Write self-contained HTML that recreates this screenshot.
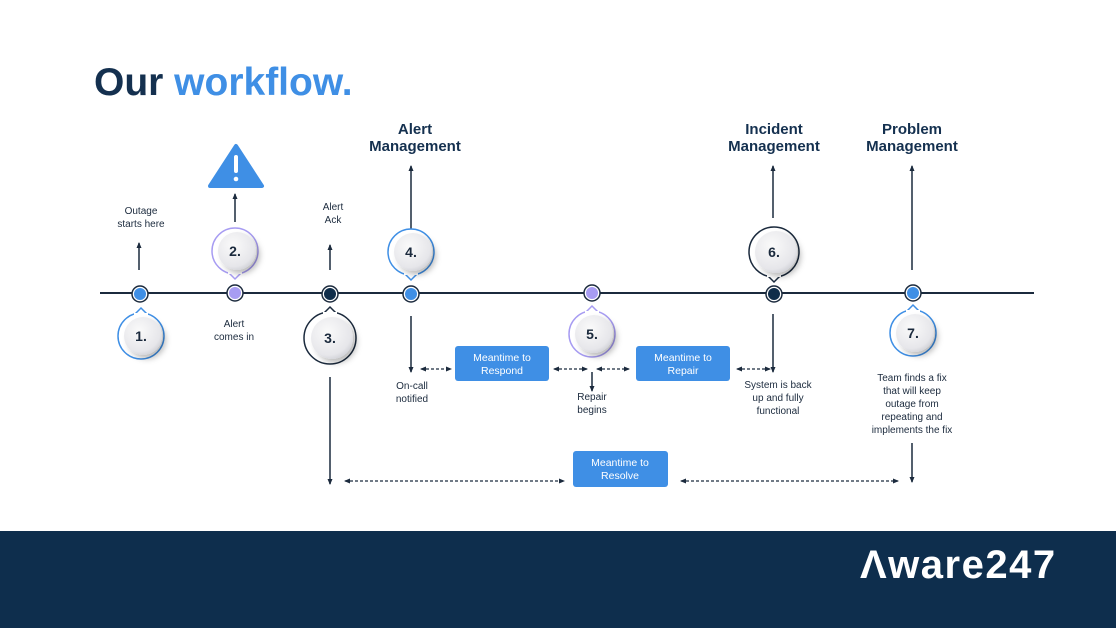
<!DOCTYPE html>
<html><head><meta charset="utf-8"><style>
body{margin:0;width:1116px;height:628px;overflow:hidden;background:#fff;font-family:"Liberation Sans",sans-serif}
</style></head><body>
<svg width="1116" height="628" viewBox="0 0 1116 628" xmlns="http://www.w3.org/2000/svg" font-family="Liberation Sans, sans-serif">
<defs>
<marker id="a" markerUnits="userSpaceOnUse" markerWidth="6" markerHeight="6" refX="5" refY="3" orient="auto"><path d="M0,0.5 L6,3 L0,5.5z" fill="#1b2a3d"/></marker>
<marker id="b" markerUnits="userSpaceOnUse" markerWidth="6" markerHeight="6" refX="1" refY="3" orient="auto"><path d="M6,0.5 L0,3 L6,5.5z" fill="#1b2a3d"/></marker>
<radialGradient id="g" cx="40%" cy="35%" r="70%"><stop offset="0" stop-color="#fafafa"/><stop offset="0.8" stop-color="#e6e6ea"/><stop offset="1" stop-color="#cfd0d6"/></radialGradient>
<filter id="s" x="-50%" y="-50%" width="200%" height="200%"><feDropShadow dx="4" dy="4" stdDeviation="3" flood-color="#000" flood-opacity="0.25"/></filter>
</defs>
<text x="94" y="95" font-size="39" font-weight="bold" fill="#14304f">Our <tspan fill="#3f8fe5">workflow.</tspan></text>

<g stroke="#1b2a3d" stroke-width="1.5" fill="none">
<line x1="100" y1="293" x2="1034" y2="293" stroke-width="2"/>
<line x1="139" y1="270" x2="139" y2="243" marker-end="url(#a)"/>
<line x1="235" y1="222" x2="235" y2="194" marker-end="url(#a)"/>
<line x1="330" y1="270" x2="330" y2="245" marker-end="url(#a)"/>
<line x1="411" y1="250" x2="411" y2="166" marker-end="url(#a)"/>
<line x1="773" y1="218" x2="773" y2="166" marker-end="url(#a)"/>
<line x1="912" y1="270" x2="912" y2="166" marker-end="url(#a)"/>
<line x1="411" y1="316" x2="411" y2="372" marker-end="url(#a)"/>
<line x1="592" y1="372" x2="592" y2="391" marker-end="url(#a)"/>
<line x1="773" y1="314" x2="773" y2="372" marker-end="url(#a)"/>
<line x1="330" y1="377" x2="330" y2="484" marker-end="url(#a)"/>
<line x1="912" y1="443" x2="912" y2="482" marker-end="url(#a)"/>
<g stroke-dasharray="3,2" stroke-width="1.2">
<line x1="421" y1="369" x2="451" y2="369" marker-start="url(#b)" marker-end="url(#a)"/>
<line x1="554" y1="369" x2="587" y2="369" marker-start="url(#b)" marker-end="url(#a)"/>
<line x1="597" y1="369" x2="629" y2="369" marker-start="url(#b)" marker-end="url(#a)"/>
<line x1="737" y1="369" x2="770" y2="369" marker-start="url(#b)" marker-end="url(#a)"/>
<line x1="345" y1="481" x2="564" y2="481" marker-start="url(#b)" marker-end="url(#a)"/>
<line x1="681" y1="481" x2="898" y2="481" marker-start="url(#b)" marker-end="url(#a)"/>
</g>
</g>

<path d="M236,146 L262,186 L210,186 Z" fill="#3f8fe5" stroke="#3f8fe5" stroke-width="4" stroke-linejoin="round"/>
<rect x="234" y="155" width="4" height="18" rx="2" fill="#fff"/><circle cx="236" cy="179" r="2.3" fill="#fff"/>

<g font-size="14" font-weight="bold" fill="#1b2a3d" text-anchor="middle">
<g><circle cx="141" cy="336" r="23" fill="#fff" stroke="#3f8fe5" stroke-width="1.5"/><path d="M135,314 l6,-6 l6,6z" fill="#fff" stroke="#3f8fe5" stroke-width="1.5"/><rect x="134" y="313" width="14" height="4" fill="#fff"/><circle cx="143" cy="336" r="19" fill="url(#g)" filter="url(#s)"/><text x="141" y="341">1.</text></g>
<g><circle cx="235" cy="251" r="23" fill="#fff" stroke="#a79cf2" stroke-width="1.5"/><path d="M229,273 l6,6 l6,-6z" fill="#fff" stroke="#a79cf2" stroke-width="1.5"/><rect x="228" y="270" width="14" height="4" fill="#fff"/><circle cx="237" cy="251" r="19" fill="url(#g)" filter="url(#s)"/><text x="235" y="256">2.</text></g>
<g><circle cx="330" cy="338" r="26" fill="#fff" stroke="#1b2a3d" stroke-width="1.5"/><path d="M324,313 l6,-6 l6,6z" fill="#fff" stroke="#1b2a3d" stroke-width="1.5"/><rect x="323" y="312" width="14" height="4" fill="#fff"/><circle cx="332" cy="338" r="21" fill="url(#g)" filter="url(#s)"/><text x="330" y="343">3.</text></g>
<g><circle cx="411" cy="252" r="23" fill="#fff" stroke="#3f8fe5" stroke-width="1.5"/><path d="M405,274 l6,6 l6,-6z" fill="#fff" stroke="#3f8fe5" stroke-width="1.5"/><rect x="404" y="271" width="14" height="4" fill="#fff"/><circle cx="413" cy="252" r="19" fill="url(#g)" filter="url(#s)"/><text x="411" y="257">4.</text></g>
<g><circle cx="592" cy="334" r="23" fill="#fff" stroke="#a79cf2" stroke-width="1.5"/><path d="M586,312 l6,-6 l6,6z" fill="#fff" stroke="#a79cf2" stroke-width="1.5"/><rect x="585" y="311" width="14" height="4" fill="#fff"/><circle cx="594" cy="334" r="19" fill="url(#g)" filter="url(#s)"/><text x="592" y="339">5.</text></g>
<g><circle cx="774" cy="252" r="25" fill="#fff" stroke="#1b2a3d" stroke-width="1.5"/><path d="M768,276 l6,6 l6,-6z" fill="#fff" stroke="#1b2a3d" stroke-width="1.5"/><rect x="767" y="273" width="14" height="4" fill="#fff"/><circle cx="776" cy="252" r="21" fill="url(#g)" filter="url(#s)"/><text x="774" y="257">6.</text></g>
<g><circle cx="913" cy="333" r="23" fill="#fff" stroke="#3f8fe5" stroke-width="1.5"/><path d="M907,311 l6,-6 l6,6z" fill="#fff" stroke="#3f8fe5" stroke-width="1.5"/><rect x="906" y="310" width="14" height="4" fill="#fff"/><circle cx="915" cy="333" r="19" fill="url(#g)" filter="url(#s)"/><text x="913" y="338">7.</text></g>
</g>

<g stroke="#1b2a3d" stroke-width="1.5">
<circle cx="140" cy="294" r="8" fill="#fff"/><circle cx="140" cy="294" r="6" fill="#3f8fe5" stroke="none"/>
<circle cx="235" cy="293" r="8" fill="#fff"/><circle cx="235" cy="293" r="6" fill="#a79cf2" stroke="none"/>
<circle cx="330" cy="294" r="8" fill="#fff"/><circle cx="330" cy="294" r="6" fill="#0f2d4a" stroke="none"/>
<circle cx="411" cy="294" r="8" fill="#fff"/><circle cx="411" cy="294" r="6" fill="#3f8fe5" stroke="none"/>
<circle cx="592" cy="293" r="8" fill="#fff"/><circle cx="592" cy="293" r="6" fill="#a79cf2" stroke="none"/>
<circle cx="774" cy="294" r="8" fill="#fff"/><circle cx="774" cy="294" r="6" fill="#0f2d4a" stroke="none"/>
<circle cx="913" cy="293" r="8" fill="#fff"/><circle cx="913" cy="293" r="6" fill="#3f8fe5" stroke="none"/>
</g>

<g fill="#3f8fe5"><rect x="455" y="346" width="94" height="35" rx="3"/><rect x="636" y="346" width="94" height="35" rx="3"/><rect x="573" y="451" width="95" height="36" rx="3"/></g>
<g fill="#fff" font-size="10.5" text-anchor="middle">
<text x="502" y="361">Meantime to</text><text x="502" y="374">Respond</text>
<text x="683" y="361">Meantime to</text><text x="683" y="374">Repair</text>
<text x="620" y="466">Meantime to</text><text x="620" y="479">Resolve</text>
</g>

<g fill="#1b2a3d" font-size="10" text-anchor="middle">
<text x="141" y="214">Outage</text><text x="141" y="227">starts here</text>
<text x="234" y="327">Alert</text><text x="234" y="340">comes in</text>
<text x="333" y="210">Alert</text><text x="333" y="223">Ack</text>
<text x="412" y="389">On-call</text><text x="412" y="402">notified</text>
<text x="592" y="400">Repair</text><text x="592" y="413">begins</text>
<text x="778" y="388">System is back</text><text x="778" y="401">up and fully</text><text x="778" y="414">functional</text>
<text x="912" y="381">Team finds a fix</text><text x="912" y="394">that will keep</text><text x="912" y="407">outage from</text><text x="912" y="420">repeating and</text><text x="912" y="433">implements the fix</text>
</g>
<g fill="#14304f" font-size="15" font-weight="bold" text-anchor="middle">
<text x="415" y="134">Alert</text><text x="415" y="151">Management</text>
<text x="774" y="134">Incident</text><text x="774" y="151">Management</text>
<text x="912" y="134">Problem</text><text x="912" y="151">Management</text>
</g>

<rect x="0" y="531" width="1116" height="97" fill="#0e2e4d"/>
<text x="860" y="578" font-size="40" font-weight="bold" fill="#fff" letter-spacing="1.5">&#923;ware247</text>
</svg>
</body></html>
